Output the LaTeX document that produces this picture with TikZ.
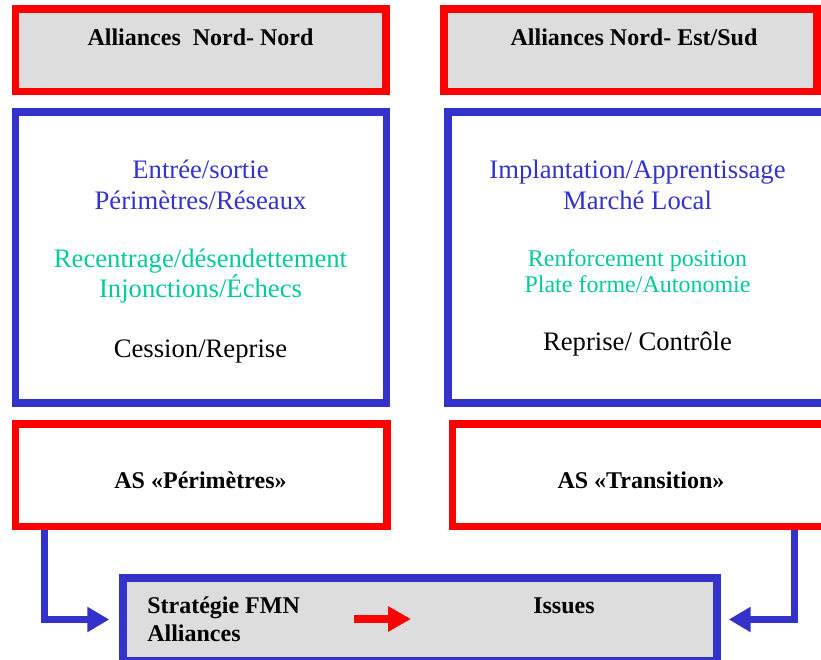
\documentclass[tikz,border=0pt]{standalone}
\usepackage{fontspec}
\setmainfont{Liberation Serif}
\usetikzlibrary{arrows.meta}
\definecolor{bleu}{RGB}{51,51,204}
\definecolor{rouge}{RGB}{255,0,0}
\definecolor{vert}{RGB}{0,204,153}
\definecolor{gris}{RGB}{221,221,221}

\begin{document}
\begin{tikzpicture}[x=0.75pt, y=-0.75pt,
    redbox/.style={draw=rouge, line width=5.6pt, inner sep=0pt},
    bluebox/.style={draw=bleu, line width=5.6pt, inner sep=0pt},
    big/.style={anchor=base, inner sep=0pt, font=\fontsize{20}{23}\selectfont},
    small/.style={anchor=base, inner sep=0pt, font=\fontsize{18}{21}\selectfont},
    head/.style={anchor=base, inner sep=0pt, font=\bfseries\fontsize{18}{21}\selectfont},
    flow/.style={draw=bleu, line width=5.25pt, -{Triangle[length=16.5pt, width=18pt]}}]
            \useasboundingbox (0,0) rectangle (821,660);

            \node (nn) at (200.75,50.25) [redbox, fill=gris, minimum width=277.9pt, minimum height=61.9pt] {};
            \node (ns) at (630.5,50.25) [redbox, fill=gris, minimum width=279.75pt, minimum height=61.9pt] {};
            \node (lnn) at (200.5,46) [head] {Alliances\ \ Nord- Nord};
            \node (lns) at (634,46) [head] {Alliances Nord- Est/Sud};

            \node (bn) at (201,257.5) [bluebox, minimum width=278.25pt, minimum height=218.25pt] {};
            \node (bs) at (637.5,257.5) [bluebox, minimum width=284.25pt, minimum height=218.25pt] {};

            \node (n1) at (200.5,178) [big, text=bleu] {Entrée/sortie};
            \node (n2) at (200.5,209) [big, text=bleu] {Périmètres/Réseaux};
            \node (n3) at (200.5,267) [big, text=vert] {Recentrage/désendettement};
            \node (n4) at (200.5,297) [big, text=vert] {Injonctions/Échecs};
            \node (n5) at (200.5,357) [big] {Cession/Reprise};

            \node (s1) at (637.5,178) [big, text=bleu] {Implantation/Apprentissage};
            \node (s2) at (637.5,209) [big, text=bleu] {Marché Local};
            \node (s3) at (637.5,266) [small, text=vert] {Renforcement position};
            \node (s4) at (637.5,292) [small, text=vert] {Plate forme/Autonomie};
            \node (s5) at (637.5,350) [big] {Reprise/ Contrôle};

            \node (per) at (201.25,475.25) [redbox, minimum width=278.6pt, minimum height=76.9pt] {};
            \node (tra) at (641.25,475.25) [redbox, minimum width=283.1pt, minimum height=76.9pt] {};
            \node (lper) at (200.5,488) [head] {AS «Périmètres»};
            \node (ltra) at (641,488) [head] {AS «Transition»};

            \node (fmn) at (420,619.5) [bluebox, fill=gris, minimum width=445.5pt, minimum height=62.25pt] {};
            \node (st1) at (147,613) [head, anchor=base west] {Stratégie FMN};
            \node (st2) at (147,641) [head, anchor=base west] {Alliances};
            \node (iss) at (533,613) [head, anchor=base west] {Issues};

            \coordinate (fl) at (354,619);
            \coordinate (fr) at (411,619);
            \draw[draw=rouge, line width=6pt, -{Triangle[length=17.25pt, width=18pt]}] (fl) -- (fr);

            \draw[flow, shorten >=7.5pt] ([xshift=24.75pt]per.south west) |- (fmn.west);
            \draw[flow, shorten >=6pt] ([xshift=-29.6pt]tra.south east) |- (fmn.east);
        \end{tikzpicture}
\end{document}
